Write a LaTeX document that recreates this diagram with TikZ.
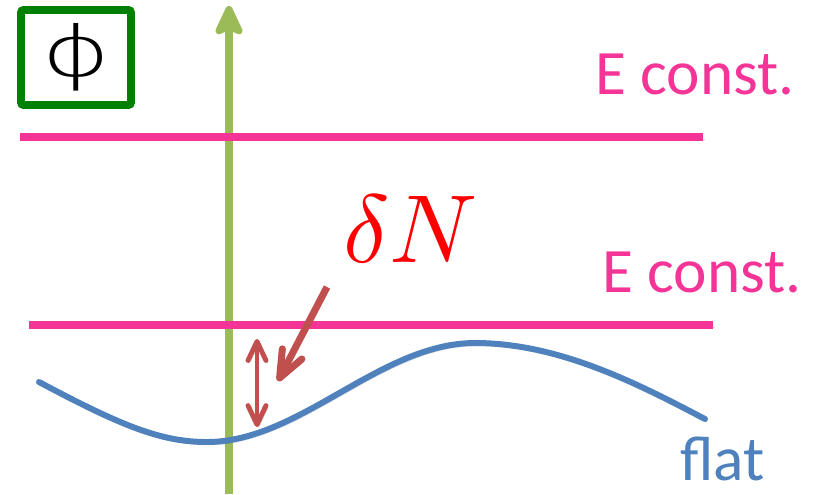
\documentclass[tikz,border=0pt]{standalone}
\usepackage{graphicx}
\usepackage{fontspec}
\setmainfont{Carlito}
\newfontfamily\phifont{DejaVu Sans ExtraLight}
\usetikzlibrary{arrows.meta}
\definecolor{levelcol}{HTML}{F43496}
\definecolor{flatcol} {HTML}{4F81BD}
\definecolor{gapcol}  {HTML}{C0504D}
\definecolor{axiscol} {HTML}{9BBB59}
\definecolor{boxcol}  {HTML}{008000}
\tikzset{
  shadowed/.style={preaction={draw=black, opacity=0.15, transform canvas={xshift=1pt, yshift=-1.6pt}}},
  eline/.style={draw=levelcol, line width=4.5pt, shadowed},
  fcurve/.style={draw=flatcol, line width=3.4pt, line cap=round, shadowed},
  axis/.style={draw=axiscol, line width=4pt, -{Stealth[length=0.72cm, width=0.66cm, inset=0.14cm, round]}},
  gaparrow/.style={draw=gapcol, line width=2.8pt, shadowed,
    {Straight Barb[length=0.38cm, width=0.36cm, round]}-{Straight Barb[length=0.38cm, width=0.36cm, round]}},
  dnarrow/.style={draw=gapcol, line width=4pt, shadowed, -{Straight Barb[length=0.54cm, width=0.44cm, round]}},
  phibox/.style={draw=boxcol, line width=4.5pt, rounded corners=1.5pt, minimum width=2.2cm, minimum height=1.9cm,
    font=\phifont\fontsize{40}{44}\selectfont},
  elabel/.style={text=levelcol, inner sep=0pt, anchor=base west, font=\fontsize{36}{40}\selectfont},
}

\begin{document}
\begin{tikzpicture}[x=0.02cm, y=-0.02cm]
  \useasboundingbox (0,0) rectangle (813,494);
  \node[phibox] (phi) at (76,57.5) {\raisebox{2pt}{\scalebox{1.5}[1]{ϕ}}};
  % field axis
  \draw[axis] (229,494) -- (229,6);
  % constant energy slices
  \draw[eline] (20,137) -- (703,137);
  \draw[eline] (29,325) -- (713,325);
  \node[elabel] (etop) at (595,94) {E const.};
  \node[elabel] (ebot) at (602,292) {E const.};
  % flat slice
  \draw[fcurve] (39,382) .. controls (120,425) and (160,442) .. (207,442)
    .. controls (300,442) and (380,343) .. (475,343)
    .. controls (560,343) and (640,385) .. (705,419);
  \node[text=flatcol, inner sep=0pt, anchor=base west, font=\fontsize{36}{40}\selectfont] (flat) at (680,480) {flat};
  % delta N
  \node[text=red, inner sep=0pt, anchor=base west] (dN) at (343,262) {\scalebox{5.5}{$\delta N$}};
  \coordinate (gaptop) at (257,339);
  \coordinate (gapbot) at (257,427);
  \coordinate (dntail) at (327,287);
  \coordinate (dntip) at (278,381);
  \draw[gaparrow] (gaptop) -- (gapbot);
  \draw[dnarrow] (dntail) -- (dntip);
\end{tikzpicture}
\end{document}
